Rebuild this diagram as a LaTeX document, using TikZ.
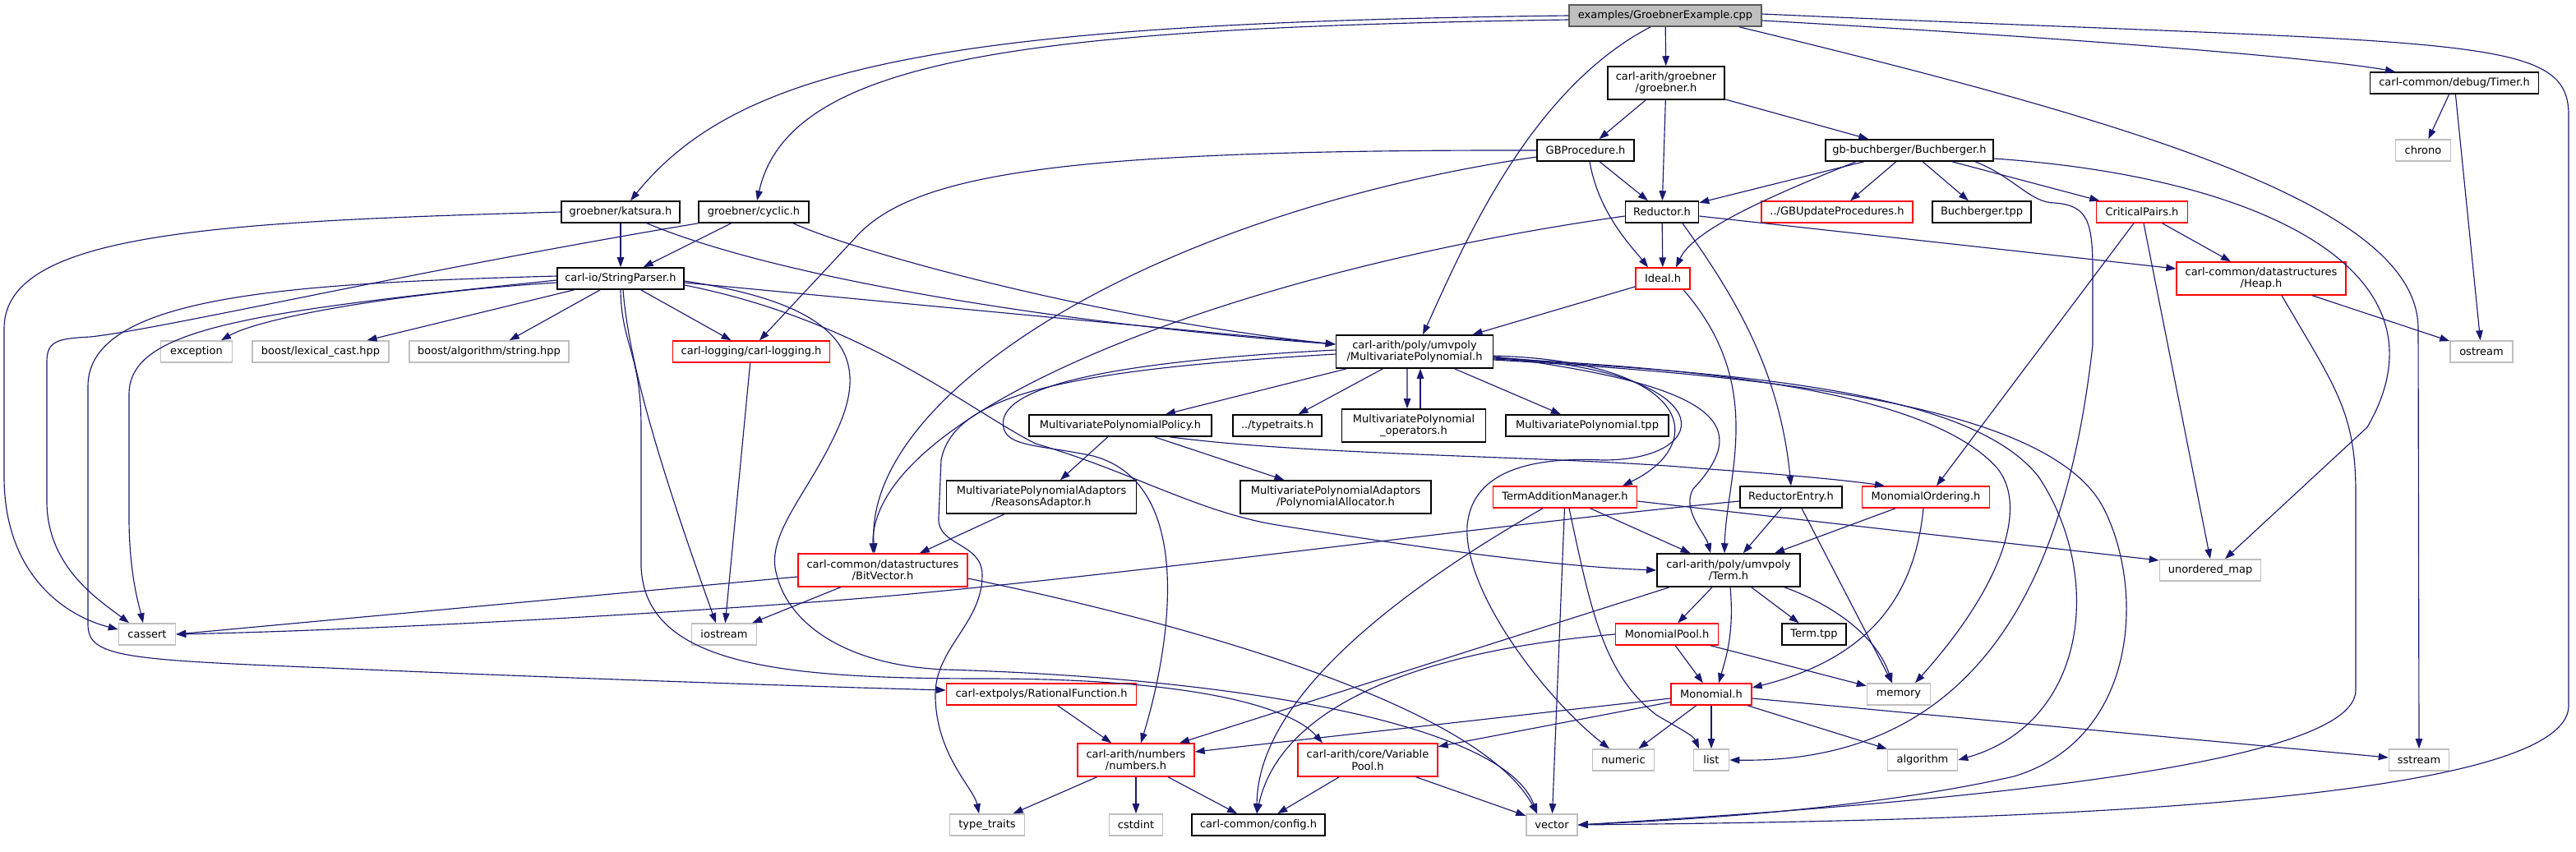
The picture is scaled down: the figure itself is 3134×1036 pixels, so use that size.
\documentclass[tikz,border=0pt]{standalone}
\usepackage{fontspec}
\setmainfont{DejaVu Sans}
\usepackage{xcolor}
\definecolor{edgeblue}   {RGB}{25, 25, 112}
\definecolor{extgray}    {RGB}{191, 191, 191}
\definecolor{truncred}   {RGB}{255, 0, 0}
\usetikzlibrary{arrows.meta, positioning}

\begin{document}
\begin{tikzpicture}[
			x=0.02cm, y=-0.02cm,
			hbox/.style={draw, rectangle, inner sep=0pt, minimum height=0.52cm, align=center,
				font=\fontsize{7.4}{8.2}\selectfont, line width=0.9pt},
			docfile/.style={hbox, draw=black},
			truncfile/.style={hbox, draw=truncred, line width=0.8pt},
			extfile/.style={hbox, draw=extgray},
			rootfile/.style={hbox, draw=black!65, fill=extgray},
			twoline/.style={minimum height=0.80cm},
			inc/.style={draw=edgeblue, line width=0.65pt, -{Triangle[length=0.24cm, width=0.17cm]}},
			]
			\useasboundingbox (0,0) rectangle (3134,1036);
			\node[rootfile, minimum width=4.68cm] (ex) at (2026,19) {examples/GroebnerExample.cpp};
			\node[docfile, twoline, minimum width=2.84cm] (grob) at (2027,101) {carl-arith/groebner\\/groebner.h};
			\node[docfile, minimum width=4.10cm] (timer) at (2986,101) {carl-common/debug/Timer.h};
			\node[docfile, minimum width=2.36cm] (gbproc) at (1929,183) {GBProcedure.h};
			\node[docfile, minimum width=4.08cm] (buch) at (2323,183) {gb-buchberger/Buchberger.h};
			\node[extfile, minimum width=1.34cm] (chrono) at (2948,183) {chrono};
			\node[docfile, minimum width=2.88cm] (katsura) at (755,258) {groebner/katsura.h};
			\node[docfile, minimum width=2.68cm] (cyclic) at (917,258) {groebner/cyclic.h};
			\node[docfile, minimum width=1.78cm] (reductor) at (2022,258) {Reductor.h};
			\node[truncfile, minimum width=3.68cm] (gbupd) at (2235,258) {../GBUpdateProcedures.h};
			\node[docfile, minimum width=2.40cm] (buchtpp) at (2411,258) {Buchberger.tpp};
			\node[truncfile, minimum width=2.22cm] (critpairs) at (2606,258) {CriticalPairs.h};
			\node[docfile, minimum width=3.08cm] (strparser) at (755,339) {carl-io/StringParser.h};
			\node[truncfile, minimum width=1.32cm] (ideal) at (2023,339) {Ideal.h};
			\node[truncfile, twoline, minimum width=4.12cm] (heap) at (2751,339) {carl-common/datastructures\\/Heap.h};
			\node[extfile, minimum width=1.74cm] (exception) at (239,428) {exception};
			\node[extfile, minimum width=3.32cm] (lexcast) at (390,428) {boost/lexical\_cast.hpp};
			\node[extfile, minimum width=3.88cm] (algstr) at (595,428) {boost/algorithm/string.hpp};
			\node[truncfile, minimum width=3.82cm] (logging) at (914,428) {carl-logging/carl-logging.h};
			\node[docfile, twoline, minimum width=3.82cm] (mpoly) at (1721,428) {carl-arith/poly/umvpoly\\/MultivariatePolynomial.h};
			\node[extfile, minimum width=1.52cm] (ostream) at (3019,428) {ostream};
			\node[docfile, minimum width=4.44cm] (policy) at (1363,518) {MultivariatePolynomialPolicy.h};
			\node[docfile, minimum width=2.16cm] (typetraits) at (1554,518) {../typetraits.h};
			\node[docfile, twoline, minimum width=3.50cm] (operators) at (1720,518) {MultivariatePolynomial\\\_operators.h};
			\node[docfile, minimum width=3.96cm] (mptpp) at (1931,518) {MultivariatePolynomial.tpp};
			\node[docfile, twoline, minimum width=4.62cm] (reasons) at (1267,605) {MultivariatePolynomialAdaptors\\/ReasonsAdaptor.h};
			\node[docfile, twoline, minimum width=4.64cm] (alloc) at (1625,605) {MultivariatePolynomialAdaptors\\/PolynomialAllocator.h};
			\node[truncfile, minimum width=3.50cm] (tam) at (1904,605) {TermAdditionManager.h};
			\node[docfile, minimum width=2.48cm] (redentry) at (2179,605) {ReductorEntry.h};
			\node[truncfile, minimum width=3.10cm] (monord) at (2343,605) {MonomialOrdering.h};
			\node[truncfile, twoline, minimum width=4.12cm] (bitvec) at (1074,694) {carl-common/datastructures\\/BitVector.h};
			\node[docfile, twoline, minimum width=3.48cm] (term) at (2103,694) {carl-arith/poly/umvpoly\\/Term.h};
			\node[extfile, minimum width=2.46cm] (umap) at (2689,694) {unordered\_map};
			\node[extfile, minimum width=1.38cm] (cassert) at (179,772) {cassert};
			\node[extfile, minimum width=1.58cm] (iostream) at (881,772) {iostream};
			\node[truncfile, minimum width=2.50cm] (monpool) at (2028,772) {MonomialPool.h};
			\node[docfile, minimum width=1.56cm] (termtpp) at (2207,772) {Term.tpp};
			\node[truncfile, minimum width=4.62cm] (ratfun) at (1267,845) {carl-extpolys/RationalFunction.h};
			\node[truncfile, minimum width=1.96cm] (monomial) at (2082,845) {Monomial.h};
			\node[extfile, minimum width=1.54cm] (memory) at (2310,845) {memory};
			\node[truncfile, twoline, minimum width=2.84cm] (numbers) at (1382,925) {carl-arith/numbers\\/numbers.h};
			\node[truncfile, twoline, minimum width=3.40cm] (varpool) at (1664,925) {carl-arith/core/Variable\\Pool.h};
			\node[extfile, minimum width=1.50cm] (numeric) at (1975,925) {numeric};
			\node[extfile, minimum width=0.86cm] (list) at (2082,925) {list};
			\node[extfile, minimum width=1.70cm] (algorithm) at (2339,925) {algorithm};
			\node[extfile, minimum width=1.46cm] (sstream) at (2943,925) {sstream};
			\node[extfile, minimum width=1.82cm] (typetr) at (1201,1004) {type\_traits};
			\node[extfile, minimum width=1.30cm] (cstdint) at (1382,1004) {cstdint};
			\node[docfile, minimum width=3.24cm] (config) at (1531,1004) {carl-common/config.h};
			\node[extfile, minimum width=1.24cm] (vector) at (1888,1004) {vector};
			\foreach \a/\b in {ex/grob, grob/gbproc, grob/reductor, grob/buch, gbproc/reductor, buch/reductor, buch/gbupd, buch/buchtpp, buch/critpairs, reductor/ideal, ideal/mpoly, critpairs/heap, heap/ostream, timer/chrono, timer/ostream, katsura/strparser, cyclic/strparser, strparser/lexcast, strparser/algstr, strparser/logging, logging/iostream, mpoly/policy, mpoly/typetraits, mpoly/mptpp, policy/reasons, policy/alloc, reasons/bitvec, tam/term, tam/vector, redentry/term, monord/term, bitvec/iostream, term/monpool, term/termtpp, monpool/monomial, monpool/memory, monomial/varpool, monomial/numeric, monomial/list, monomial/algorithm, ratfun/numbers, numbers/typetr, numbers/cstdint, numbers/config, varpool/config, varpool/vector}
			\draw[inc] (\a) -- (\b);
			\draw[inc] ([yshift=-0.1cm]reductor.east) -- ([yshift=0.24cm]heap.west);
			\draw[inc] ([xshift=-0.2cm]critpairs.south) -- ([xshift=0.26cm]monord.north);
			\draw[inc] ([xshift=0.04cm]critpairs.south) -- (umap.north);
			\draw[inc] ([yshift=-0.1cm]strparser.east) -- ([yshift=0.18cm]mpoly.west);
			\draw[inc] ([xshift=-0.18cm]mpoly.south) -- ([xshift=-0.16cm]operators.north);
			\draw[inc] ([xshift=0.16cm]operators.north) -- ([xshift=0.14cm]mpoly.south);
			\draw[inc] ([yshift=-0.1cm]tam.east) -- ([yshift=0.24cm]umap.west);
			\draw[inc] ([xshift=0.26cm]redentry.south) -- ([xshift=-0.16cm]memory.north);
			\draw[inc] ([yshift=-0.16cm]bitvec.west) -- (cassert.east);
			\draw[inc] ([xshift=-1.44cm]term.south) -- ([xshift=1.06cm]numbers.north);
			\draw[inc] ([yshift=-0.1cm]monomial.west) -- ([yshift=0.2cm]numbers.east);
			\draw[inc] ([yshift=-0.1cm]monomial.east) -- ([yshift=0.06cm]sstream.west);
			\draw[inc] (ex.west) .. controls (1150,28) and (900,80) .. ([xshift=0.24cm]katsura.north);
			\draw[inc] ([yshift=-0.1cm]ex.west) .. controls (1250,34) and (960,70) .. ([xshift=0.08cm]cyclic.north);
			\draw[inc] ([xshift=-0.36cm]ex.south) .. controls (1860,110) and (1780,300) .. ([xshift=0.2cm]mpoly.north);
			\draw[inc] ([yshift=-0.12cm]ex.east) .. controls (2500,45) and (2820,70) .. ([xshift=-1.44cm]timer.north);
			\draw[inc] ([xshift=1.8cm]ex.south) .. controls (2600,150) and (2942,250) .. (2942,400) -- (sstream.north);
			\draw[inc] ([yshift=0.04cm]ex.east) .. controls (3000,55) and (3125,40) .. (3125,140) -- (3125,860) .. controls (3120,990) and (2300,1000) .. (vector.east);
			\draw[inc] ([xshift=0.1cm]gbproc.south) .. controls (1945,260) and (1985,300) .. ([xshift=-0.36cm]ideal.north);
			\draw[inc] (gbproc.west) .. controls (1300,182) and (1110,210) .. (1040,290) -- ([xshift=0.2cm]logging.north);
			\draw[inc] ([yshift=-0.16cm]gbproc.west) .. controls (1400,260) and (1050,480) .. ([xshift=-0.2cm]bitvec.north);
			\draw[inc] ([yshift=-0.1cm]reductor.west) .. controls (1500,330) and (1060,500) .. ([xshift=-0.24cm]bitvec.north);
			\draw[inc] ([xshift=-1.3cm]buch.south) .. controls (2150,240) and (2060,280) .. ([xshift=0.32cm]ideal.north);
			\draw[inc] ([xshift=1.6cm]buch.south) .. controls (2450,215) and (2470,247) .. (2500,247) .. controls (2540,250) and (2546,270) .. (2546,330) -- (2546,420) .. controls (2520,650) and (2440,930) .. (list.east);
			\draw[inc] ([yshift=-0.2cm]buch.east) .. controls (2750,215) and (2990,330) .. (2880,520) -- ([xshift=0.36cm]umap.north);
			\draw[inc] ([xshift=0.5cm]reductor.south) .. controls (2110,360) and (2165,450) .. (redentry.north);
			\draw[inc] ([xshift=0.5cm]ideal.south) .. controls (2150,470) and (2100,580) .. ([xshift=-0.1cm]term.north);
			\draw[inc] ([xshift=0.5cm]heap.south) .. controls (2840,470) and (2866,500) .. (2866,600) -- (2866,840) .. controls (2866,930) and (2400,975) .. (vector.east);
			\draw[inc] ([xshift=0.64cm]katsura.south) .. controls (950,340) and (1300,395) .. ([yshift=0.18cm]mpoly.west);
			\draw[inc] ([xshift=0.96cm]cyclic.south) .. controls (1050,310) and (1350,390) .. ([yshift=0.18cm]mpoly.west);
			\draw[inc] (katsura.west) .. controls (250,270) and (5,285) .. (5,400) -- (5,580) .. controls (5,700) and (80,750) .. ([yshift=0.12cm]cassert.west);
			\draw[inc] (cyclic.south west) .. controls (500,330) and (200,400) .. (110,410) .. controls (70,412) and (57,415) .. (57,440) -- (57,610) .. controls (57,690) and (120,730) .. ([xshift=-0.44cm]cassert.north);
			\draw[inc] ([yshift=-0.1cm]strparser.west) .. controls (500,355) and (320,385) .. ([xshift=0.6cm]exception.north);
			\draw[inc] ([xshift=0.06cm]strparser.south) .. controls (765,440) and (800,560) .. ([xshift=-0.2cm]iostream.north);
			\draw[inc] (strparser.south) .. controls (756,420) and (780,430) .. (780,520) -- (780,690) .. controls (785,810) and (950,826) .. (1200,826) .. controls (1450,826) and (1570,860) .. ([xshift=-1.1cm]varpool.north);
			\draw[inc] ([yshift=0.06cm]strparser.west) .. controls (350,345) and (107,360) .. (107,470) -- (107,760) .. controls (107,800) and (150,803) .. (400,813) .. controls (700,826) and (1000,836) .. ([yshift=0.1cm]ratfun.west);
			\draw[inc] ([yshift=-0.04cm]strparser.west) .. controls (300,380) and (157,400) .. (157,480) -- (157,630) .. controls (157,700) and (170,740) .. ([xshift=-0.1cm]cassert.north);
			\draw[inc] ([yshift=-0.16cm]strparser.east) .. controls (1050,390) and (1180,500) .. (1260,540) .. controls (1380,575) and (1460,625) .. (1560,640) .. controls (1750,670) and (1900,690) .. (term.west);
			\draw[inc] ([yshift=-0.06cm]strparser.east) .. controls (1020,370) and (1060,430) .. (1020,520) .. controls (985,600) and (930,650) .. (945,700) .. controls (960,760) and (1030,810) .. (1150,815) .. controls (1500,825) and (1830,880) .. ([xshift=-0.36cm]vector.north);
			\draw[inc] ([yshift=-0.1cm]mpoly.east) .. controls (2060,440) and (2080,540) .. ([xshift=1.4cm]tam.north);
			\draw[inc] ([yshift=-0.12cm]mpoly.east) .. controls (2100,470) and (2130,520) .. (2060,595) .. controls (2045,620) and (2075,650) .. ([xshift=-0.44cm]term.north);
			\draw[inc] ([yshift=0.04cm]mpoly.west) .. controls (1350,440) and (1230,470) .. (1221,510) .. controls (1215,545) and (1260,540) .. (1330,555) .. controls (1460,590) and (1420,800) .. ([xshift=0.12cm]numbers.north);
			\draw[inc] ([yshift=-0.06cm]mpoly.west) .. controls (1300,450) and (1160,480) .. (1145,560) -- (1142,630) .. controls (1140,665) and (1195,660) .. (1195,700) .. controls (1195,760) and (1135,790) .. (1138,850) .. controls (1140,920) and (1185,960) .. ([xshift=-0.2cm]typetr.north);
			\draw[inc] ([yshift=-0.14cm]mpoly.east) .. controls (2100,450) and (2090,560) .. (1950,560) .. controls (1850,555) and (1790,580) .. (1785,640) .. controls (1780,720) and (1880,850) .. ([xshift=-0.34cm]numeric.north);
			\draw[inc] ([yshift=-0.16cm]mpoly.east) .. controls (2100,450) and (2350,480) .. (2430,570) .. controls (2470,620) and (2430,720) .. ([xshift=0.4cm]memory.north);
			\draw[inc] ([yshift=-0.18cm]mpoly.east) .. controls (2150,455) and (2400,480) .. (2480,580) .. controls (2560,700) and (2540,880) .. (algorithm.east);
			\draw[inc] ([yshift=-0.2cm]mpoly.east) .. controls (2200,460) and (2500,500) .. (2560,620) .. controls (2610,720) and (2600,900) .. (2450,945) .. controls (2250,990) and (2000,1000) .. (vector.east);
			\draw[inc] ([xshift=1.2cm]policy.south) .. controls (1600,555) and (1900,555) .. (2066,570) .. controls (2180,578) and (2250,585) .. ([xshift=-1.0cm]monord.north);
			\draw[inc] ([xshift=-0.54cm]tam.south) .. controls (1700,720) and (1530,850) .. ([xshift=-0.04cm]config.north);
			\draw[inc] ([xshift=0.1cm]tam.south) .. controls (1935,740) and (1950,820) .. (2015,870) .. controls (2040,885) and (2060,895) .. ([xshift=-0.3cm]list.north);
			\draw[inc] ([yshift=-0.1cm]redentry.west) .. controls (1800,640) and (1300,710) .. (1000,732) .. controls (700,754) and (400,768) .. (cassert.east);
			\draw[inc] ([yshift=-0.2cm]bitvec.east) .. controls (1450,760) and (1800,860) .. ([xshift=-0.36cm]vector.north);
			\draw[inc] ([xshift=0.04cm]term.south) .. controls (2110,770) and (2100,800) .. ([xshift=0.18cm]monomial.north);
			\draw[inc] ([xshift=1.36cm]term.south) .. controls (2240,740) and (2285,780) .. ([xshift=-0.16cm]memory.north);
			\draw[inc] ([xshift=-0.06cm]monord.south) .. controls (2330,720) and (2280,800) .. ([yshift=0.16cm]monomial.east);
			\draw[inc] (monpool.west) .. controls (1750,790) and (1560,850) .. ([xshift=-0.04cm]config.north);
	\end{tikzpicture}
\end{document}
